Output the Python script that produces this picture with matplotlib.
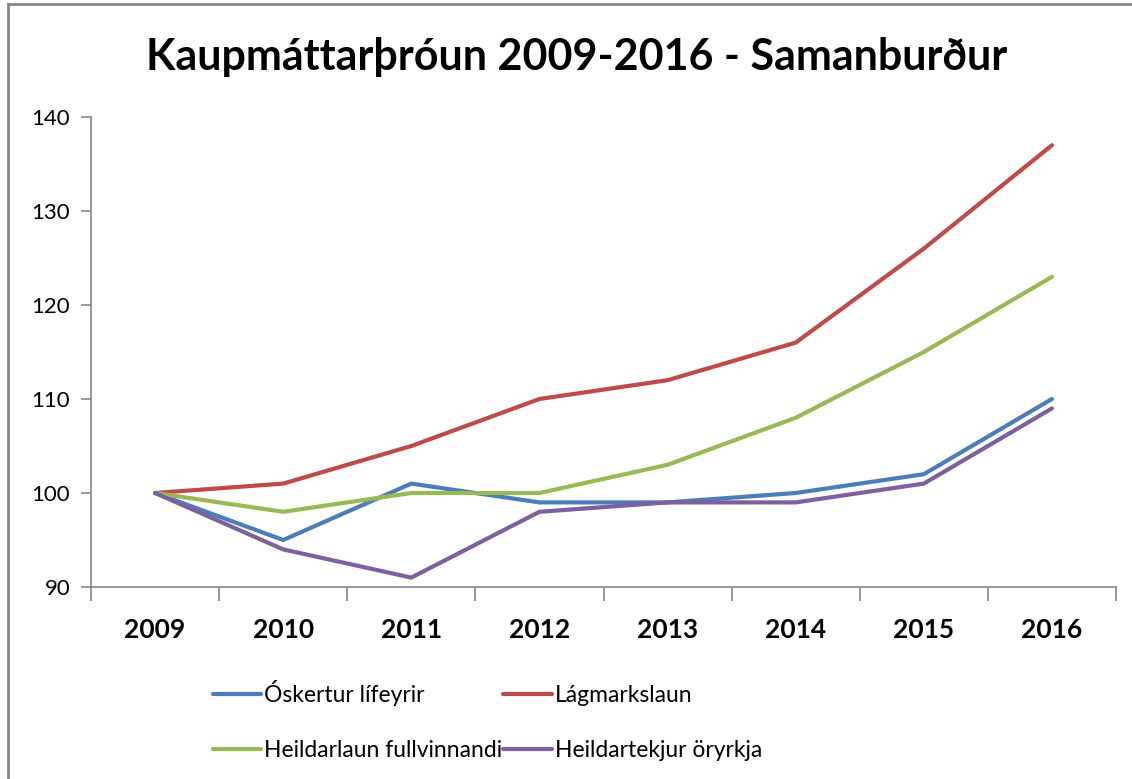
import matplotlib
matplotlib.use("Agg")
import matplotlib.pyplot as plt
from matplotlib.lines import Line2D

years = ["2009", "2010", "2011", "2012", "2013", "2014", "2015", "2016"]
oskertur = [100, 95, 101, 99, 99, 100, 102, 110]
lagmark = [100, 101, 105, 110, 112, 116, 126, 137]
heildarlaun = [100, 98, 100, 100, 103, 108, 115, 123]
oryrkja = [100, 94, 91, 98, 99, 99, 101, 109]
series_names = ["Óskertur lífeyrir", "Lágmarkslaun", "Heildarlaun fullvinnandi", "Heildartekjur öryrkja"]
colors = ["#4A7EBB", "#BE4B48", "#98B954", "#7D60A0"]
yticks = [90, 100, 110, 120, 130, 140]

plt.rcParams['font.family'] = ['Lato', 'DejaVu Sans']

W, H = 1132, 779
fig = plt.figure(figsize=(W / 100, H / 100), dpi=100)
ax = fig.add_axes([91 / W, 1 - 587 / H, (1116 - 91) / W, (587 - 117) / H])

x = list(range(len(years)))
handles = []
for vals, name, c in zip([oskertur, lagmark, heildarlaun, oryrkja], series_names, colors):
    h, = ax.plot(x, vals, color=c, lw=3, solid_capstyle='round', solid_joinstyle='round', label=name)
    handles.append(h)

gray = "#868686"
ax.set_xlim(-0.5, len(years) - 0.5)
ax.set_ylim(90, 140)
ax.set_yticks(yticks)
ax.set_yticklabels([str(v) for v in yticks], fontsize=16)
ax.set_xticks(x)
ax.set_xticklabels(years, fontsize=19, fontweight='bold')
ax.tick_params(axis='x', length=0, pad=22)
ax.tick_params(axis='y', length=7, color=gray, width=1.2, pad=8)
ax.set_xticks([i - 0.5 for i in range(len(years) + 1)], minor=True)
ax.tick_params(axis='x', which='minor', length=10, color=gray, width=1.2)
for s in ['top', 'right']:
    ax.spines[s].set_visible(False)
for s in ['left', 'bottom']:
    ax.spines[s].set_color(gray)
    ax.spines[s].set_linewidth(1.2)

fig.text(577 / W, 1 - 57 / H, "Kaupmáttarþróun 2009-2016 - Samanburður", ha='center', va='center',
         fontsize=31, fontweight='bold')

order = [0, 2, 1, 3]
leg = fig.legend(handles=[handles[i] for i in order], loc='upper left',
                 bbox_to_anchor=(192 / W, 1 - 659 / H), ncol=2,
                 frameon=False, fontsize=16.5, handlelength=2.1, handletextpad=0.15,
                 columnspacing=0.05, labelspacing=1.5)

fig.add_artist(Line2D([8 / W, 8 / W], [0, 1 - 4 / H], color=gray, lw=2, transform=fig.transFigure))
fig.add_artist(Line2D([8 / W, 1], [1 - 4 / H, 1 - 4 / H], color=gray, lw=2, transform=fig.transFigure))

fig.savefig("out.png", dpi=100)
